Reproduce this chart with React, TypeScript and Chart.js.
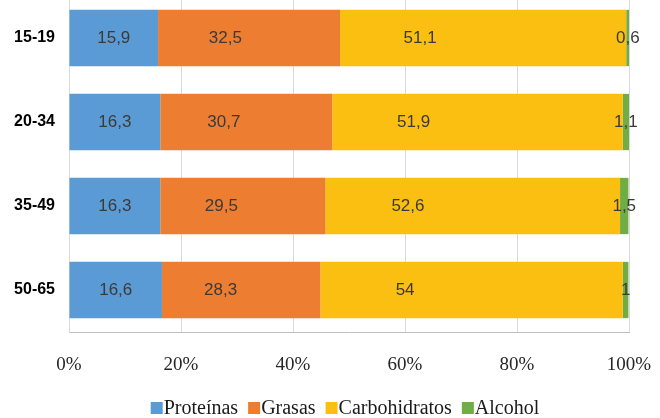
import React, { useEffect, useRef } from "react";
import { Chart, registerables } from "chart.js";

Chart.register(...registerables);

const categories = ["15-19", "20-34", "35-49", "50-65"];
const seriesNames = ["Proteínas", "Grasas", "Carbohidratos", "Alcohol"];
const proteinas = [15.9, 16.3, 16.3, 16.6];
const grasas = [32.5, 30.7, 29.5, 28.3];
const carbohidratos = [51.1, 51.9, 52.6, 54];
const alcohol = [0.6, 1.1, 1.5, 1];
const colors = ["#5B9BD5", "#ED7D31", "#FBBF12", "#70AD47"];
const labelAnchor = [0.5, 0.37, 0.28, 0.5];
const xTicks = [0, 20, 40, 60, 80, 100];

const SANS = "'Liberation Sans', Arial, sans-serif";
const SERIF = "'Liberation Serif', 'DejaVu Serif', serif";

const fmt = (v: number) => String(v).replace(".", ",");

const labelPlugin = {
  id: "segLabels",
  afterDatasetsDraw(chart: any) {
    const ctx = chart.ctx;
    ctx.save();
    ctx.font = `17px ${SANS}`;
    ctx.fillStyle = "#3a3a3a";
    ctx.textAlign = "center";
    ctx.textBaseline = "middle";
    chart.data.datasets.forEach((ds: any, di: number) => {
      const meta = chart.getDatasetMeta(di);
      meta.data.forEach((el: any, i: number) => {
        const p = el.getProps(["x", "y", "base"], true);
        const x = p.base + (p.x - p.base) * labelAnchor[di];
        ctx.fillText(fmt(ds.data[i]), x, p.y);
      });
    });
    ctx.restore();
  },
};

const legendPlugin = {
  id: "customLegend",
  afterDraw(chart: any) {
    const ctx = chart.ctx;
    ctx.save();
    ctx.font = `20px ${SERIF}`;
    ctx.textBaseline = "alphabetic";
    const box = 12;
    const gapBox = 1;
    const gapItem = 10;
    const widths = seriesNames.map((n) => ctx.measureText(n).width);
    const total = widths.reduce((a, w) => a + box + gapBox + w, 0) + gapItem * (seriesNames.length - 1);
    const centerX = (chart.chartArea.left + chart.chartArea.right) / 2 - 4;
    let x = centerX - total / 2;
    const baseline = chart.height - 4;
    seriesNames.forEach((n, i) => {
      ctx.fillStyle = colors[i];
      ctx.fillRect(x, baseline - box, box, box);
      x += box + gapBox;
      ctx.fillStyle = "#1a1a1a";
      ctx.fillText(n, x, baseline);
      x += widths[i] + gapItem;
    });
    ctx.restore();
  },
};

export default function App() {
  const ref = useRef<HTMLCanvasElement>(null);
  useEffect(() => {
    if (!ref.current) return;
    const values = [proteinas, grasas, carbohidratos, alcohol];
    const chart = new Chart(ref.current, {
      type: "bar",
      data: {
        labels: categories,
        datasets: seriesNames.map((name, i) => ({
          label: name,
          data: values[i],
          backgroundColor: colors[i],
          borderWidth: 0,
          barPercentage: 0.67,
          categoryPercentage: 1,
        })),
      },
      options: {
        indexAxis: "y",
        animation: false,
        responsive: false,
        devicePixelRatio: 1,
        layout: { padding: { top: 8, right: 31, bottom: 41, left: 0 } },
        plugins: {
          legend: { display: false },
          tooltip: { enabled: false },
        },
        scales: {
          x: {
            stacked: true,
            min: 0,
            max: 100,
            afterBuildTicks: (s: any) => {
              s.ticks = xTicks.map((v) => ({ value: v }));
            },
            afterFit: (s: any) => {
              s.height = 45;
              s.paddingLeft = 0;
              s.paddingRight = 0;
              s.paddingTop = 0;
              s.paddingBottom = 0;
            },
            grid: { color: "#d9d9d9", drawTicks: false, lineWidth: 1 },
            border: { color: "#bfbfbf" },
            ticks: {
              padding: 22,
              color: "#262626",
              font: { family: SERIF, size: 19 },
              callback: (v: any) => v + "%",
            },
          },
          y: {
            stacked: true,
            afterFit: (s: any) => {
              s.width = 69;
              s.paddingLeft = 0;
              s.paddingRight = 0;
              s.paddingTop = 0;
              s.paddingBottom = 0;
            },
            grid: { display: false, drawTicks: false },
            border: { display: true, color: "#d9d9d9" },
            ticks: {
              padding: 14,
              color: "#000000",
              font: { family: SANS, size: 16, weight: "bold" },
            },
          },
        },
      },
      plugins: [labelPlugin, legendPlugin],
    });
    return () => chart.destroy();
  }, []);
  return (
    <div style={{ position: "absolute", left: 0, top: -12, width: 660, height: 430 }}>
      <canvas ref={ref} width={660} height={430} style={{ display: "block" }} />
    </div>
  );
}
